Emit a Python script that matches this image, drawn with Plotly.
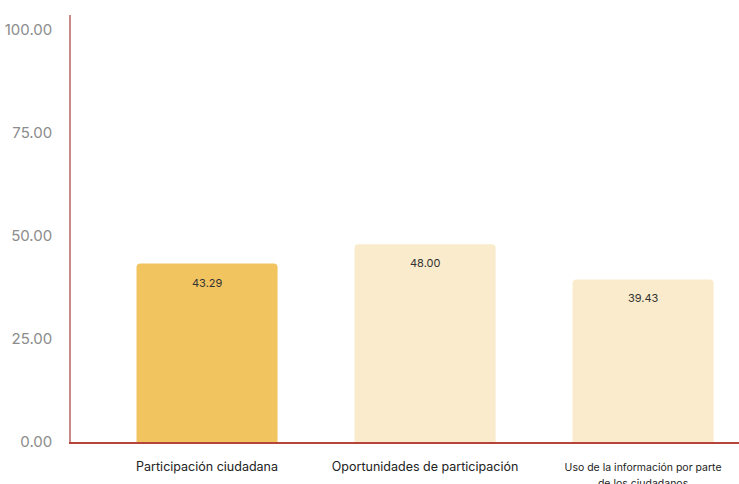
import plotly.graph_objects as go

categories = ["Participación ciudadana", "Oportunidades de participación", "Uso de la información por parte<br>de los ciudadanos"]
values = [43.29, 48.00, 39.43]
bar_colors = ["#F2C45F", "#F9EBCB", "#F9EBCB"]
y_ticks = [0, 25, 50, 75, 100]
y_tick_text = ["0.00", "25.00", "50.00", "75.00", "100.00"]

x_pos = list(range(len(categories)))
tick_text = [categories[0], categories[1],
             "<span style='font-size:10.5px'>" + categories[2] + "</span>"]

fig = go.Figure()
fig.add_trace(go.Bar(
    x=x_pos, y=values, width=0.647,
    marker=dict(color=bar_colors, line=dict(width=0)),
    hoverinfo="skip",
))

for xi, v in zip(x_pos, values):
    fig.add_annotation(x=xi, y=v, text=f"{v:.2f}", showarrow=False,
                       yanchor="top", yshift=-10,
                       font=dict(size=11, color="#333333", family="Inter, Lato, sans-serif"))

fig.update_layout(
    width=739, height=484,
    margin=dict(l=71, r=0, t=15, b=42),
    plot_bgcolor="white", paper_bgcolor="white",
    showlegend=False,
    barcornerradius=4,
    font=dict(family="Inter, Lato, sans-serif"),
    xaxis=dict(
        range=[-0.624, 2.44],
        tickmode="array", tickvals=x_pos, ticktext=tick_text,
        tickfont=dict(size=12.5, color="#222222"),
        showgrid=False, zeroline=False,
        showline=True, linecolor="#B5443A", linewidth=1.5,
        ticks="", ticklabelstandoff=12, automargin=False,
    ),
    yaxis=dict(
        range=[0, 103.6],
        tickmode="array", tickvals=y_ticks, ticktext=y_tick_text,
        tickfont=dict(size=15, color="#8c8c8c"),
        showgrid=False, zeroline=False,
        showline=True, linecolor="#C98A88", linewidth=1.5,
        ticks="", ticklabelstandoff=14, automargin=False,
    ),
)

fig.write_html("out.html",
               config={"displayModeBar": False},
               post_script="document.body.style.margin='0';document.body.style.overflow='hidden';")
